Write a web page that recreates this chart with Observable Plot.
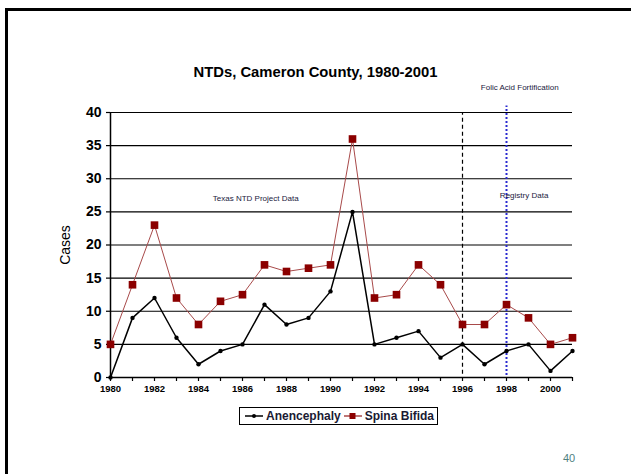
<!DOCTYPE html>
<html>
<head>
<meta charset="utf-8">
<script src="https://cdn.jsdelivr.net/npm/d3@7"></script>
<script src="https://cdn.jsdelivr.net/npm/@observablehq/plot@0.6"></script>
<style>
  html, body { margin: 0; padding: 0; background: #fff; }
  #slide { position: relative; width: 631px; height: 474px; overflow: hidden; font-family: "Liberation Sans", Arial, sans-serif; }
  #frame { position: absolute; left: 5px; top: 8px; width: 640px; height: 480px; border-left: 3px solid #000; border-top: 3px solid #000; }
  #chart { position: absolute; left: 0; top: 0; }
  #title { position: absolute; left: 0; width: 631px; top: 64px; text-align: center; font-weight: bold; font-size: 14.8px; color: #000; }
  #legend { position: absolute; left: 239px; top: 407px; height: 16px; border: 1px solid #000; padding: 0 3px; display: flex; align-items: center; font-weight: bold; font-size: 12px; color: #1a1a33; white-space: nowrap; }
  #legend svg { display: block; }
  #page { position: absolute; left: 563px; top: 452px; font-size: 11px; color: #4f7f7f; }
</style>
</head>
<body>
<div id="slide">
  <div id="frame"></div>
  <div id="chart"></div>
  <div id="title">NTDs, Cameron County, 1980-2001</div>
  <div id="legend"></div>
  <div id="page">40</div>
</div>
<script>
// Annual case counts, Cameron County
const years = [1980, 1981, 1982, 1983, 1984, 1985, 1986, 1987, 1988, 1989, 1990,
               1991, 1992, 1993, 1994, 1995, 1996, 1997, 1998, 1999, 2000, 2001];
const anencephaly = [0, 9, 12, 6, 2, 4, 5, 11, 8, 9, 13, 25, 5, 6, 7, 3, 5, 2, 4, 5, 1, 4];
const spinaBifida = [5, 14, 23, 12, 8, 11.5, 12.5, 17, 16, 16.5, 17, 36, 12, 12.5, 17, 14, 8, 8, 11, 9, 5, 6];
const yTicks = [0, 5, 10, 15, 20, 25, 30, 35, 40];
const gridLevels = [5, 10, 15, 20, 25, 30, 35, 40];

// Period markers and notes
const registryStart = 1996;
const fortificationYear = 1998;
const notes = [
  {year: 1986.6, value: 27.1, text: "Texas NTD Project Data"},
  {year: 1998.8, value: 27.5, text: "Registry Data"},
  {year: 1998.6, value: 43.8, text: "Folic Acid Fortification"}
];

const anenColor = "#000000";
const spinaLine = "#a84a4a";
const spinaMark = "#8b0000";

const rowsA = years.map((y, i) => ({year: y, value: anencephaly[i]}));
const rowsS = years.map((y, i) => ({year: y, value: spinaBifida[i]}));

const chart = Plot.plot({
  width: 631,
  height: 474,
  marginLeft: 110,
  marginRight: 59,
  marginTop: 112,
  marginBottom: 97,
  style: {fontFamily: "'Liberation Sans', Arial, sans-serif", background: "transparent", overflow: "visible"},
  x: {domain: [1980, 2001]},
  y: {domain: [0, 40]},
  marks: [
    Plot.ruleY(gridLevels, {stroke: "#000", strokeWidth: 1.2}),
    Plot.ruleY([0], {stroke: "#000", strokeWidth: 1.5}),
    Plot.ruleX([1980], {y1: 0, y2: 40, stroke: "#000", strokeWidth: 1.5}),
    Plot.axisY({ticks: yTicks, tickSize: 4, tickPadding: 5, fontSize: 14, fontWeight: "bold", fill: "#000", stroke: "#000", strokeWidth: 1.2, label: null}),
    Plot.text(["Cases"], {frameAnchor: "left", textAnchor: "middle", dx: -45, rotate: -90, fontSize: 14, fill: "#000"}),
    Plot.axisX({ticks: years, tickSize: 4, tickPadding: 4, fontSize: 9.5, fontWeight: "bold", fill: "#000", stroke: "#000", strokeWidth: 1.2,
      tickFormat: d => d % 2 ? "" : String(d), label: null}),
    Plot.ruleX([registryStart], {y1: 0.5, y2: 40, stroke: "#000", strokeWidth: 1.2, strokeDasharray: "4,3"}),
    Plot.ruleX([fortificationYear], {y1: 0.3, y2: 41, stroke: "#2a2ad0", strokeWidth: 2, strokeDasharray: "2,2", clip: false}),
    Plot.text(notes, {x: "year", y: "value", text: "text", fontSize: 8, fill: "#1a1a40", clip: false}),
    Plot.line(rowsS, {x: "year", y: "value", stroke: spinaLine, strokeWidth: 1}),
    Plot.dot(rowsS, {x: "year", y: "value", symbol: "square", r: 4.3, fill: spinaMark, stroke: "none"}),
    Plot.line(rowsA, {x: "year", y: "value", stroke: anenColor, strokeWidth: 1.5}),
    Plot.dot(rowsA, {x: "year", y: "value", r: 2.2, fill: anenColor, stroke: "none"})
  ]
});
document.getElementById("chart").appendChild(chart);

// Legend: line-with-marker swatches followed by the series names
const legend = d3.select("#legend");
function swatch(lineColor, markColor, square) {
  const s = legend.append("svg").attr("width", 22).attr("height", 10);
  s.append("line").attr("x1", 2).attr("x2", 20).attr("y1", 5).attr("y2", 5)
    .attr("stroke", lineColor).attr("stroke-width", 1.5);
  if (square) s.append("rect").attr("x", 7.5).attr("y", 2).attr("width", 6).attr("height", 6).attr("fill", markColor);
  else s.append("circle").attr("cx", 11).attr("cy", 5).attr("r", 2).attr("fill", markColor);
}
swatch(anenColor, anenColor, false);
legend.append("span").text("Anencephaly").style("margin", "0 1px 0 1px");
swatch(spinaLine, spinaMark, true);
legend.append("span").text("Spina Bifida").style("margin-left", "1px");
</script>
</body>
</html>
